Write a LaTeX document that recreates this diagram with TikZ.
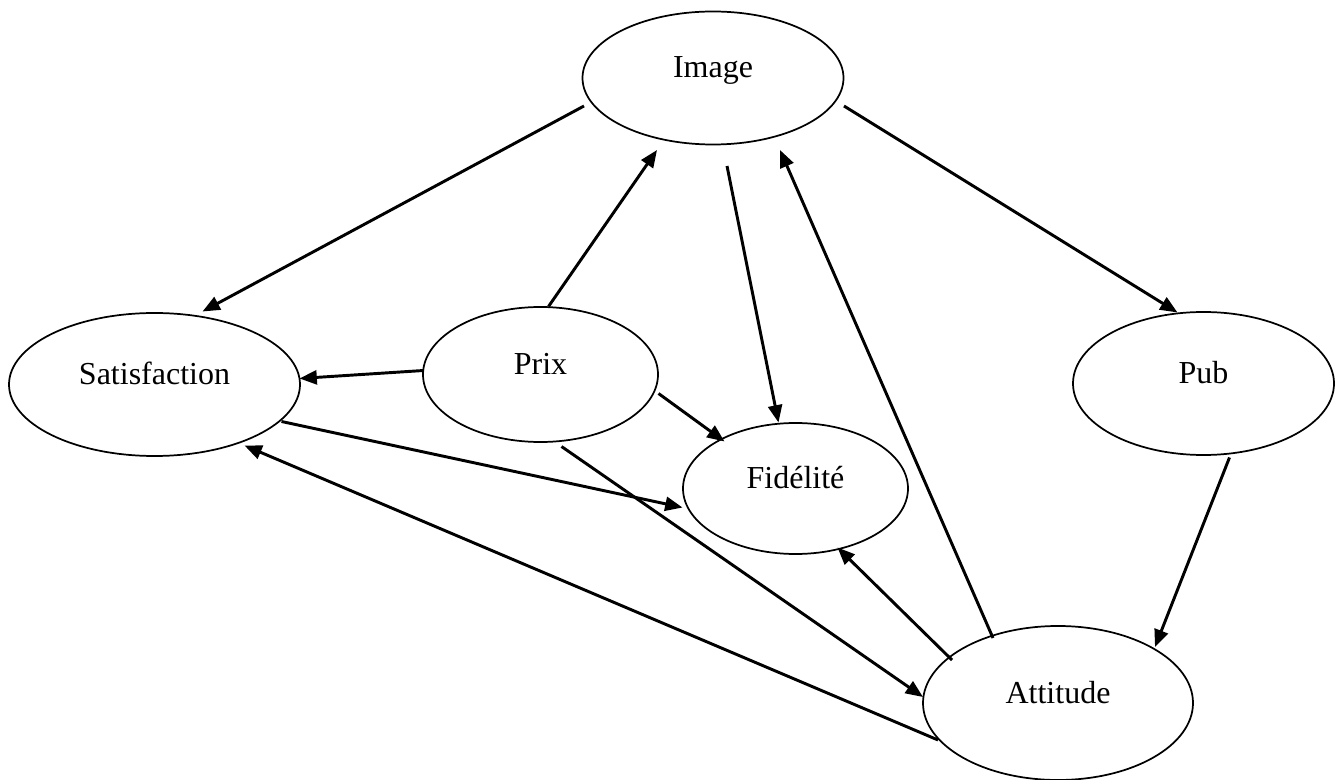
\documentclass[tikz,border=0pt]{standalone}
\usepackage{fontspec}
\setmainfont{Liberation Serif}
\usetikzlibrary{shapes.geometric,arrows.meta,calc}
\begin{document}
\begin{tikzpicture}[x=0.75pt,y=-0.75pt,
  construct/.style={draw, ellipse, line width=1.3pt, inner sep=0pt},
  caption/.style={anchor=base, inner sep=0pt, font=\fontsize{24}{28}\selectfont},
  link/.style={line width=2.2pt, -{Triangle[length=13pt,width=10.5pt]}}]
\useasboundingbox (0,0) rectangle (1336,780);

% constructs of the model
\node[construct, minimum width=195.75pt, minimum height=99.75pt]  (img) at (713,78)      {};
\node[construct, minimum width=218.25pt, minimum height=107.25pt] (sat) at (154.5,384.5) {};
\node[construct, minimum width=176.25pt, minimum height=101.25pt] (prx) at (540.5,374.5) {};
\node[construct, minimum width=168.75pt, minimum height=98.25pt]  (fid) at (795.5,488.5) {};
\node[construct, minimum width=195.75pt, minimum height=107.25pt] (pub) at (1203.5,383.5) {};
\node[construct, minimum width=202.5pt,  minimum height=115.5pt]  (att) at (1058,703)    {};

\node[caption] (img-t) at (img.center) {Image};
\node[caption] (sat-t) at (sat.center) {Satisfaction};
\node[caption] (prx-t) at (prx.center) {Prix};
\node[caption] (fid-t) at (fid.center) {Fidélité};
\node[caption] (pub-t) at (pub.center) {Pub};
\node[caption] (att-t) at (att.center) {Attitude};

% relations between constructs
\draw[link] ($(img.center)+(-129,28)$) -- ($(sat.center)+(48,-73)$);
\draw[link] ($(img.center)+(131,28)$)  -- ($(pub.center)+(-26,-71)$);
\draw[link] ($(prx.center)+(8,-68)$)   -- ($(img.center)+(-56,72)$);
\draw[link] ($(img.center)+(14,88)$)   -- ($(fid.center)+(-17,-66)$);
\draw[link] ($(prx.center)+(-117,-4)$) -- ($(sat.center)+(145,-6)$);
\draw[link] ($(prx.center)+(118,19)$)  -- ($(fid.center)+(-71,-47)$);
\draw[link] ($(sat.center)+(127,37)$)  -- ($(fid.center)+(-113,19)$);
\draw[link] ($(prx.center)+(21,72)$)   -- ($(att.center)+(-135,-6)$);
\draw[link] ($(att.center)+(-120,37)$) -- ($(sat.center)+(90,61)$);
\draw[link] ($(att.center)+(-106,-43)$) -- ($(fid.center)+(42,59)$);
\draw[link] ($(att.center)+(-65,-65)$) -- ($(img.center)+(67,72)$);
\draw[link] ($(pub.center)+(26,74)$)   -- ($(att.center)+(97,-56)$);
\end{tikzpicture}
\end{document}
